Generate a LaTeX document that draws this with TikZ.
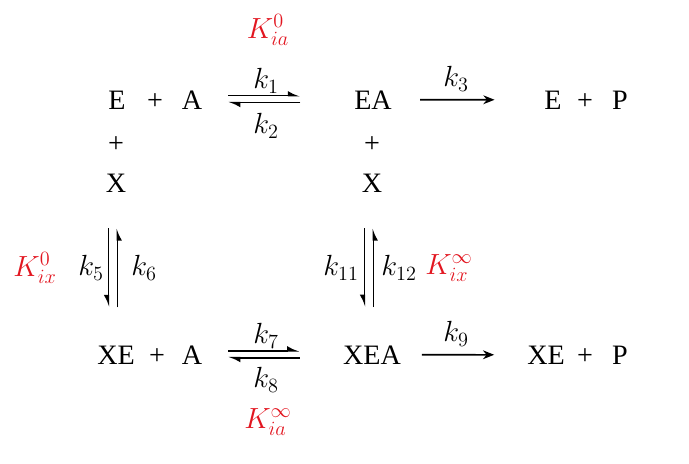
\documentclass[tikz,border=0pt]{standalone}
\usepackage{fontspec}
\setmainfont{Liberation Serif}
\usepackage{xcolor}
\definecolor{constred}{RGB}{226,22,32}
\usepackage{tikz}
\usetikzlibrary{arrows.meta}
\newcommand\bigfont{\fontsize{20}{24}\selectfont}
\newcommand\redfont{\fontsize{22}{26}\selectfont}
\tikzset{
  species/.style={anchor=base, inner sep=0pt, font=\bigfont},
  plussign/.style={inner sep=0pt, font=\bigfont},
  rate/.style={inner sep=0pt, font=\bigfont},
  dissoc/.style={inner sep=0pt, text=constred, font=\redfont},
  fwdharp/.style={line width=1.1pt, -{Latex[left, length=2.5mm, width=2.4mm]}},
  vertharp/.style={line width=1.1pt, -{Latex[right, length=2.5mm, width=2.4mm]}},
  onearrow/.style={line width=1.1pt, -{Stealth[length=2.8mm, width=2.2mm]}},
}

\begin{document}
\begin{tikzpicture}[x=0.025cm, y=-0.025cm]
\useasboundingbox (0,0) rectangle (689,463);
% top row
\node[species] (e1)  at (117,109) {E};
\node[species] (pl1) at (155,109) {+};
\node[species] (a1)  at (192,109) {A};
\node[species] (ea)  at (373,109) {EA};
\node[species] (e2)  at (553,109) {E};
\node[species] (pl2) at (585,109) {+};
\node[species] (p1)  at (620,109) {P};
% bound inhibitor
\node[plussign] (pl3) at (116,145) {+};
\node[species]  (x1)  at (116,192) {X};
\node[plussign] (pl4) at (372,145) {+};
\node[species]  (x2)  at (372,192) {X};
% bottom row
\node[species] (xe1) at (116,364) {XE};
\node[species] (pl5) at (157,364) {+};
\node[species] (a2)  at (192,364) {A};
\node[species] (xea) at (372,364) {XEA};
\node[species] (xe2) at (546,364) {XE};
\node[species] (pl6) at (585,364) {+};
\node[species] (p2)  at (620,364) {P};
% reactions
\draw[fwdharp, shorten <=0.64cm, shorten >=1.34cm]
  ([yshift=0.1cm]a1.east) -- ([yshift=0.1cm]ea.west);
\draw[fwdharp, shorten <=1.34cm, shorten >=0.64cm]
  ([yshift=-0.075cm]ea.west) -- ([yshift=-0.075cm]a1.east);
\draw[onearrow, shorten <=0.7cm, shorten >=1.24cm] (ea.east) -- (e2.west);
\draw[fwdharp, shorten <=0.64cm, shorten >=1.08cm]
  ([yshift=0.1cm]a2.east) -- ([yshift=0.1cm]xea.west);
\draw[fwdharp, shorten <=1.08cm, shorten >=0.64cm]
  ([yshift=-0.075cm]xea.west) -- ([yshift=-0.075cm]a2.east);
\draw[onearrow, shorten <=0.52cm, shorten >=0.82cm] (xea.east) -- (xe2.west);
\draw[vertharp, shorten <=0.9cm, shorten >=0.95cm]
  ([xshift=-0.19cm]x1.south) -- ([xshift=-0.19cm]xe1.north);
\draw[vertharp, shorten <=0.95cm, shorten >=0.9cm]
  ([xshift=0.035cm]xe1.north) -- ([xshift=0.035cm]x1.south);
\draw[vertharp, shorten <=0.9cm, shorten >=0.95cm]
  ([xshift=-0.19cm]x2.south) -- ([xshift=-0.19cm]xea.north);
\draw[vertharp, shorten <=0.95cm, shorten >=0.9cm]
  ([xshift=0.035cm]xea.north) -- ([xshift=0.035cm]x2.south);
% rate constants
\node[rate] (k1)  at (266,81)  {$k_1$};
\node[rate] (k2)  at (266,126) {$k_2$};
\node[rate] (k3)  at (456,79)  {$k_3$};
\node[rate] (k5)  at (91,268)  {$k_5$};
\node[rate] (k6)  at (144,268) {$k_6$};
\node[rate] (k11) at (341,268) {$k_{11}$};
\node[rate] (k12) at (399,268) {$k_{12}$};
\node[rate] (k7)  at (266,336) {$k_7$};
\node[rate] (k8)  at (266,380) {$k_8$};
\node[rate] (k9)  at (456,334) {$k_9$};
% dissociation constants
\node[dissoc] (kia0)   at (268,30)  {$K_{ia}^{0}$};
\node[dissoc] (kix0)   at (35,268)  {$K_{ix}^{0}$};
\node[dissoc] (kixinf) at (449,268) {$K_{ix}^{\infty}$};
\node[dissoc] (kiainf) at (268,422) {$K_{ia}^{\infty}$};
\end{tikzpicture}
\end{document}
